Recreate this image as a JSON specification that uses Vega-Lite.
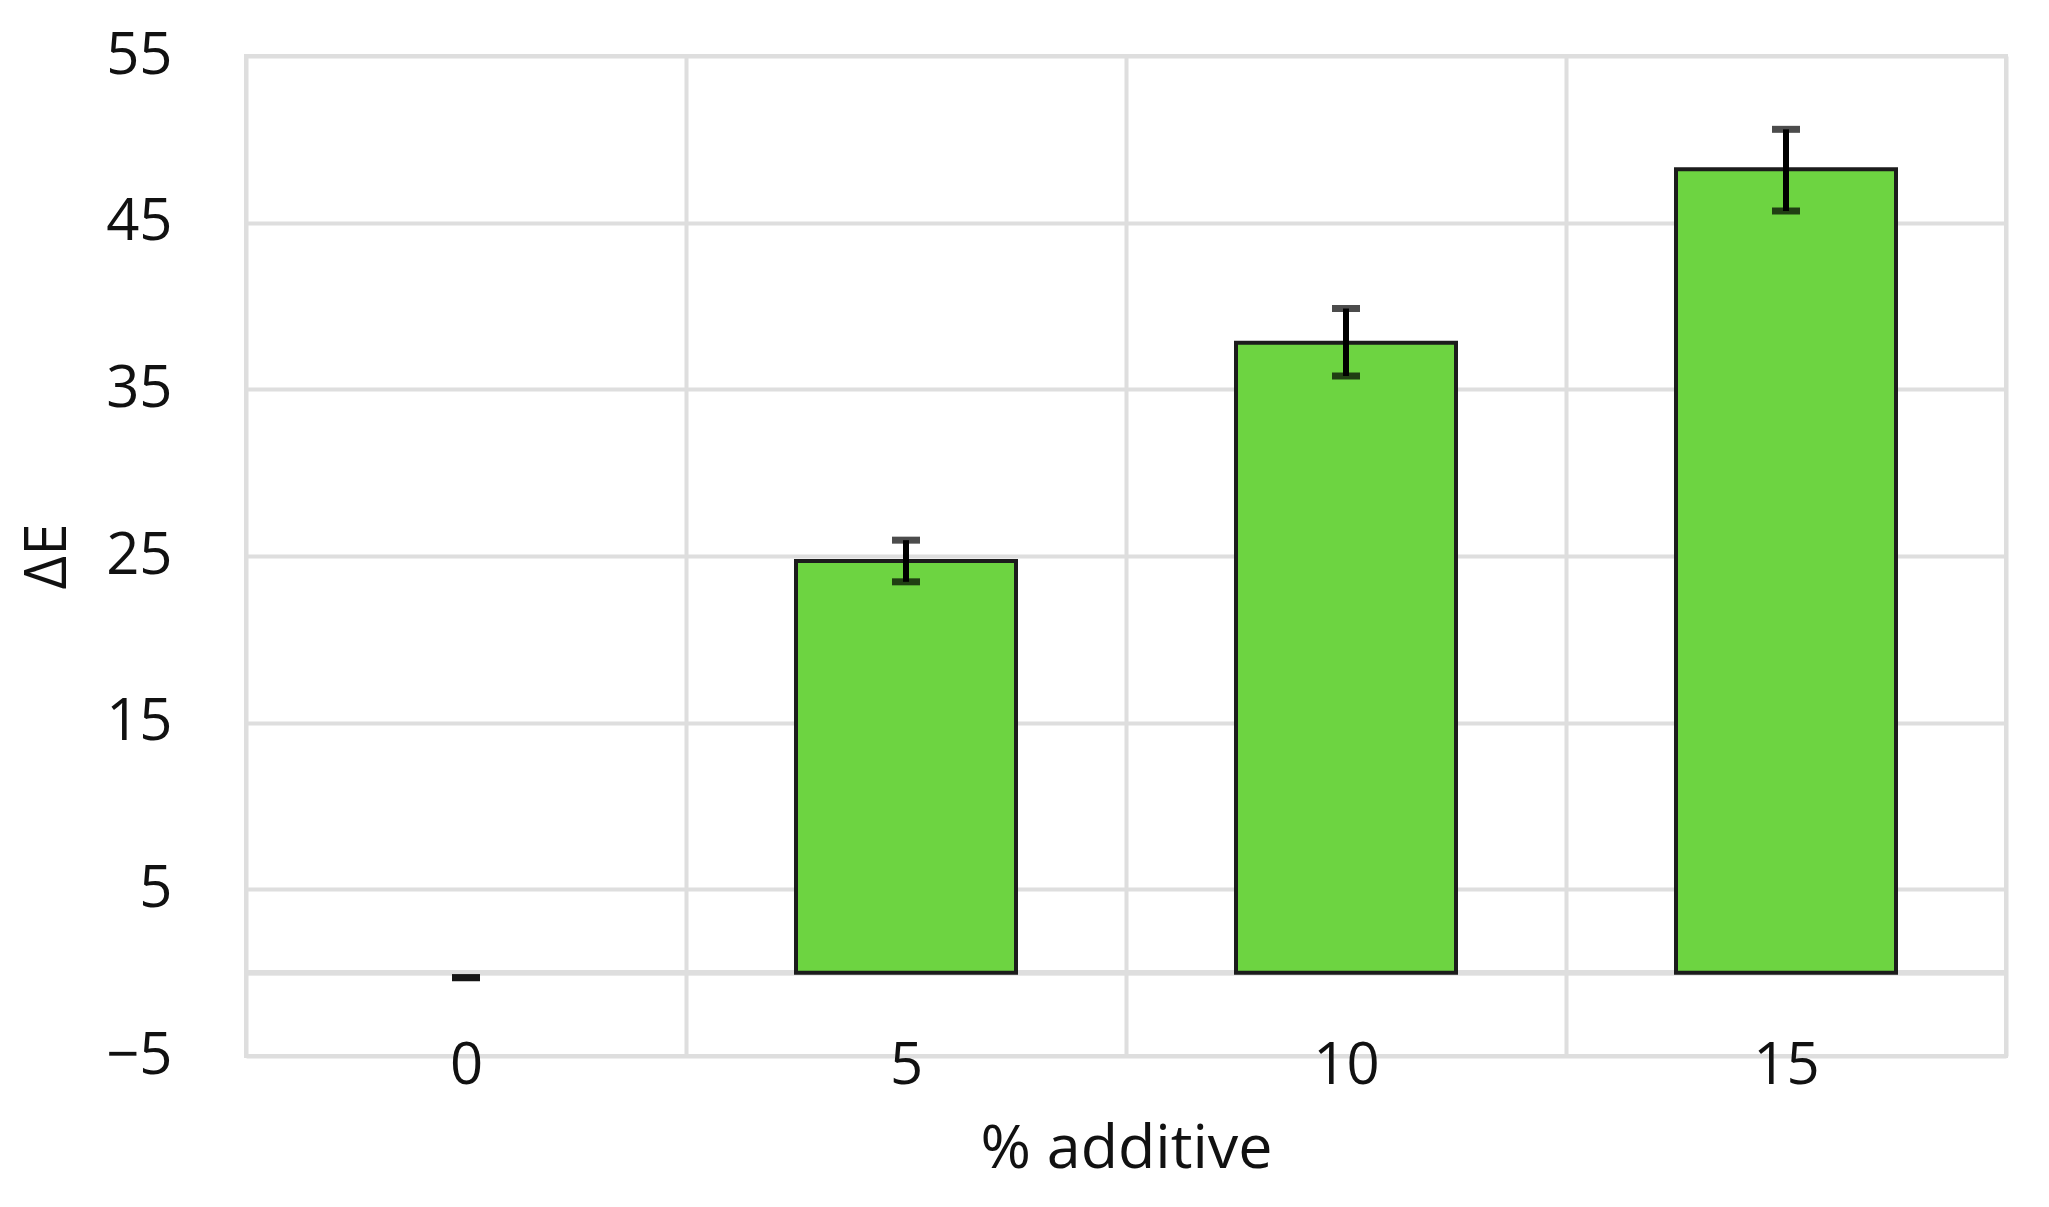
{
  "$schema": "https://vega.github.io/schema/vega-lite/v6.json",
  "width": 1760,
  "height": 1000,
  "autosize": {"type": "none"},
  "padding": {"left": 246, "top": 56, "right": 43, "bottom": 151},
  "background": "white",
  "config": {
    "view": {"stroke": "#dedede", "strokeWidth": 4},
    "font": "Open Sans",
    "axis": {"labelFont": "Open Sans", "titleFont": "Open Sans", "labelColor": "#111111", "titleColor": "#111111", "titleFontWeight": "normal"}
  },
  "data": {
    "values": [
      {"pct": "0", "mean": 0, "lo": -0.3, "hi": -0.3},
      {"pct": "5", "mean": 24.7, "lo": 23.45, "hi": 25.95},
      {"pct": "10", "mean": 37.8, "lo": 35.8, "hi": 39.85},
      {"pct": "15", "mean": 48.2, "lo": 45.7, "hi": 50.6}
    ]
  },
  "encoding": {
    "x": {
      "field": "pct", "type": "nominal", "sort": ["0", "5", "10", "15"],
      "scale": {"paddingInner": 0, "paddingOuter": 0},
      "axis": {
        "title": "% additive", "titleFontSize": 61, "titlePadding": 24,
        "labelFontSize": 58, "labelAngle": 0, "labelBaseline": "alphabetic", "labelPadding": 27,
        "ticks": false, "domain": false, "grid": true, "tickBand": "extent",
        "gridColor": "#dedede", "gridWidth": 4, "gridOpacity": 1
      }
    }
  },
  "layer": [
    {
      "mark": {"type": "rule", "color": "#dedede", "strokeWidth": 5},
      "encoding": {"y": {"datum": 0, "type": "quantitative"}, "x": null}
    },
    {
      "transform": [{"filter": "datum.mean != 0"}],
      "mark": {"type": "bar", "color": "#6dd441", "stroke": "#1c1c1c", "strokeWidth": 4, "width": {"band": 0.5}},
      "encoding": {
        "y": {
          "field": "mean", "type": "quantitative",
          "scale": {"domain": [-5, 55], "nice": false, "zero": false},
          "axis": {
            "title": "ΔE", "titleFontSize": 58, "titlePadding": 28,
            "values": [-5, 5, 15, 25, 35, 45, 55],
            "labelFontSize": 58, "labelPadding": 74,
            "ticks": false, "domain": false, "grid": true,
            "gridColor": "#dedede", "gridWidth": 4, "gridOpacity": 1
          }
        }
      }
    },
    {
      "mark": {"type": "rule", "color": "black", "strokeWidth": 6},
      "encoding": {
        "y": {"field": "lo", "type": "quantitative"},
        "y2": {"field": "hi"}
      }
    },
    {
      "mark": {"type": "tick", "color": "black", "size": 28, "thickness": 7},
      "encoding": {"y": {"field": "lo", "type": "quantitative"}}
    },
    {
      "mark": {"type": "tick", "color": "black", "size": 28, "thickness": 7},
      "encoding": {"y": {"field": "hi", "type": "quantitative"}}
    }
  ]
}
